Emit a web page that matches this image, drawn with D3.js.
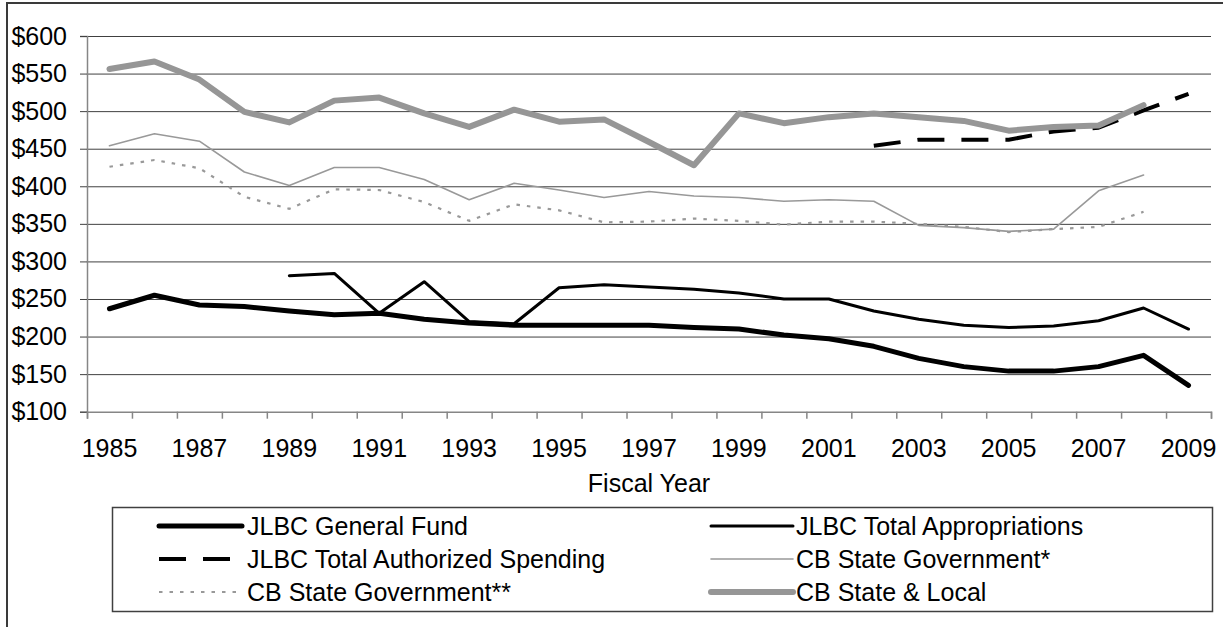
<!DOCTYPE html>
<html>
<head>
<meta charset="utf-8">
<script src="https://cdn.jsdelivr.net/npm/d3@7"></script>
<style>
  html, body { margin: 0; padding: 0; background: #fff; }
  svg { display: block; font-family: "Liberation Sans", Arial, sans-serif; }
</style>
</head>
<body>
<svg id="chart" width="1223" height="627"></svg>
<script>
const years = [1985,1986,1987,1988,1989,1990,1991,1992,1993,1994,1995,1996,1997,1998,1999,2000,2001,2002,2003,2004,2005,2006,2007,2008,2009];
const yearLabels = [1985,1987,1989,1991,1993,1995,1997,1999,2001,2003,2005,2007,2009];
const yTicks = [100,150,200,250,300,350,400,450,500,550,600];

const jlbcGeneralFund = [237,255,242,240,234,229,231,223,218,215,215,215,215,212,210,202,197,187,171,160,154,154,160,175,135];
const jlbcTotalAppropriations = [null,null,null,null,281,284,231,273,220,217,265,269,266,263,258,250,250,234,223,215,212,214,221,238,210];
const jlbcTotalAuthorized = [null,null,null,null,null,null,null,null,null,null,null,null,null,null,null,null,null,454,462,462,462,473,478,501,523];
const cbStateGov1 = [454,470,460,419,401,425,425,409,382,404,395,385,393,387,385,380,382,380,348,345,340,343,394,415,null];
const cbStateGov2 = [426,435,424,386,370,396,395,379,354,376,368,352,353,357,354,349,353,353,350,346,339,343,346,366,null];
const cbStateLocal = [556,566,542,499,485,514,518,497,479,502,486,489,459,428,497,484,492,497,492,487,474,479,481,508,null];

const seriesNames = ["JLBC General Fund","JLBC Total Appropriations","JLBC Total Authorized Spending","CB State Government*","CB State Government**","CB State & Local"];
const seriesValues = [jlbcGeneralFund, jlbcTotalAppropriations, jlbcTotalAuthorized, cbStateGov1, cbStateGov2, cbStateLocal];

const styles = [
  {stroke:"#000000", width:5, dash:null, legendWidth:5},
  {stroke:"#000000", width:3, dash:null, legendWidth:3},
  {stroke:"#000000", width:4, dash:"27,17", legendWidth:4},
  {stroke:"#999999", width:1.6, dash:null, legendWidth:1.6},
  {stroke:"#999999", width:2.2, dash:"3.5,7", legendWidth:2.2},
  {stroke:"#969696", width:6, dash:null, legendWidth:6}
];

const svg = d3.select("#chart");
const FONT = 25;
const plot = {left:87, right:1211, top:36, bottom:411.7};

// outer chart border
svg.append("rect").attr("x",7).attr("y",3).attr("width",1240).attr("height",660)
  .attr("fill","none").attr("stroke","#3a3a3a").attr("stroke-width",2);

const x = d3.scaleBand().domain(years).range([plot.left, plot.right]).padding(0);
const xb = d3.scaleLinear().domain([0, years.length]).range([plot.left, plot.right]);
const y = d3.scaleLinear().domain([100,600]).range([plot.bottom, plot.top]);

// gridlines
svg.append("g").attr("transform",`translate(${plot.left},0)`)
  .call(d3.axisLeft(y).tickValues(yTicks.slice(1)).tickSize(-(plot.right-plot.left)).tickFormat(""))
  .call(g => g.select(".domain").remove())
  .call(g => g.selectAll("line").attr("stroke","#404040").attr("stroke-width",1));

// y axis
const ya = svg.append("g").attr("transform",`translate(${plot.left},0)`)
  .call(d3.axisLeft(y).tickValues(yTicks).tickSize(7).tickPadding(13).tickFormat(d => "$" + d));
ya.select(".domain").attr("stroke","#868686").attr("stroke-width",1.5);
ya.selectAll("line").attr("stroke","#404040");
ya.selectAll("text").attr("font-size",FONT).attr("fill","#000").attr("font-family","Liberation Sans, Arial, sans-serif");

// x axis ticks at category boundaries
const xa = svg.append("g").attr("transform",`translate(0,${plot.bottom})`)
  .call(d3.axisBottom(xb).tickValues(d3.range(years.length+1)).tickSize(7).tickFormat(""));
xa.select(".domain").attr("stroke","#868686").attr("stroke-width",1.5);
xa.selectAll("line").attr("stroke","#868686").attr("stroke-width",1.5);

// x labels
const xl = svg.append("g").attr("transform",`translate(0,${plot.bottom})`)
  .call(d3.axisBottom(x).tickValues(yearLabels).tickSize(0).tickPadding(0));
xl.select(".domain").remove();
xl.selectAll("text").attr("y",45).attr("dy",0).attr("font-size",FONT).attr("fill","#000")
  .attr("font-family","Liberation Sans, Arial, sans-serif");

// x title
svg.append("text").attr("x",(plot.left+plot.right)/2).attr("y",492)
  .attr("text-anchor","middle").attr("font-size",FONT).text("Fiscal Year");

// lines
const line = d3.line()
  .defined(d => d.v !== null)
  .x(d => x(d.year) + x.bandwidth()/2)
  .y(d => y(d.v));

seriesValues.forEach((vals, i) => {
  const data = years.map((yr, j) => ({year: yr, v: vals[j]}));
  const st = styles[i];
  svg.append("path").datum(data)
    .attr("fill","none")
    .attr("stroke",st.stroke)
    .attr("stroke-width",st.width)
    .attr("stroke-linejoin","round")
    .attr("stroke-linecap", st.dash ? "butt" : "round")
    .attr("stroke-dasharray", st.dash)
    .attr("d", line);
});

// legend
const lg = svg.append("g");
lg.append("rect").attr("x",112.5).attr("y",507.5).attr("width",1100).attr("height",104)
  .attr("fill","#fff").attr("stroke","#404040").attr("stroke-width",1.5);
const colX = [{sx1:159, sx2:242, tx:247},{sx1:711, sx2:793, tx:796}];
const rowY = [526, 559, 592];
seriesNames.forEach((name, i) => {
  const c = colX[i % 2], r = rowY[Math.floor(i/2)];
  const st = styles[i];
  lg.append("line").attr("x1",c.sx1).attr("x2",c.sx2).attr("y1",r).attr("y2",r)
    .attr("stroke", st.stroke).attr("stroke-width", st.legendWidth)
    .attr("stroke-dasharray", st.dash)
    .attr("stroke-linecap", st.dash ? "butt" : "round");
  lg.append("text").attr("x",c.tx).attr("y",r).attr("dy","0.35em")
    .attr("font-size",FONT).attr("fill","#000").text(name);
});
</script>
</body>
</html>
